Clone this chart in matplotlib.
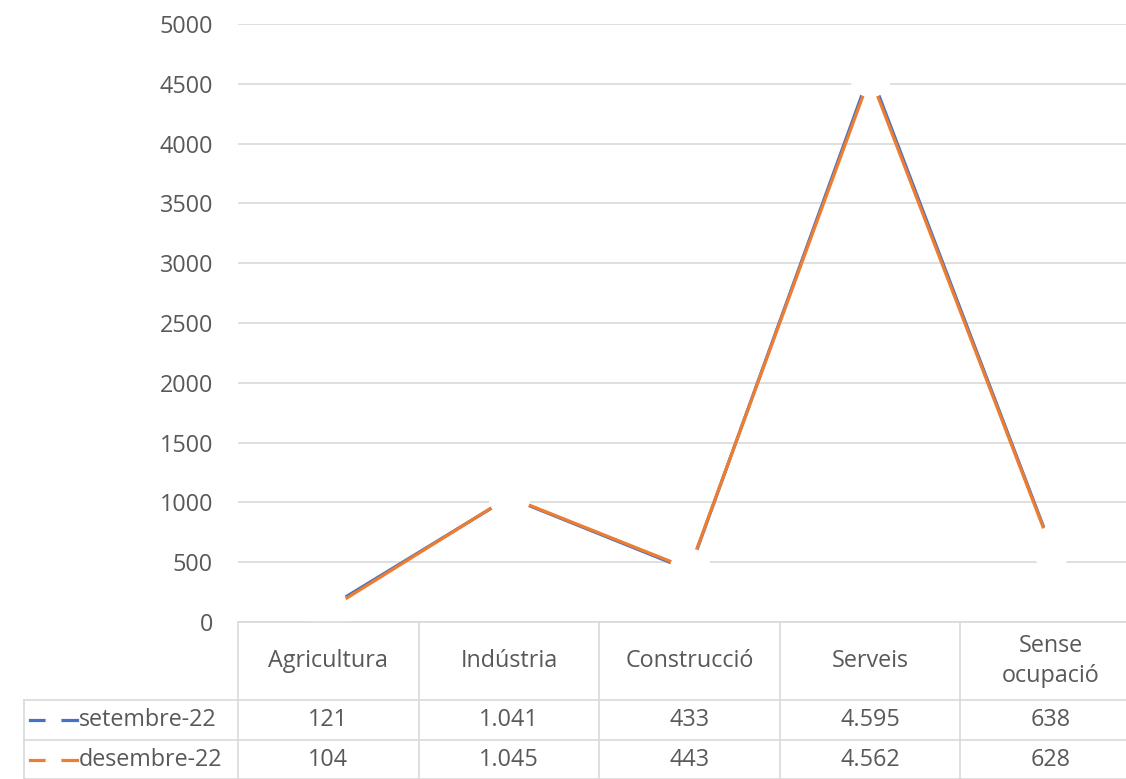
import matplotlib
matplotlib.use("Agg")
import matplotlib.pyplot as plt
from matplotlib.lines import Line2D
import matplotlib.transforms as mtransforms

categories = ["Agricultura", "Indústria", "Construcció", "Serveis", "Sense\nocupació"]
series_names = ["setembre-22", "desembre-22"]
setembre = [121, 1041, 433, 4595, 638]
desembre = [104, 1045, 443, 4562, 628]
setembre_labels = ["121", "1.041", "433", "4.595", "638"]
desembre_labels = ["104", "1.045", "443", "4.562", "628"]
yticks = list(range(0, 5001, 500))

W, H = 1126, 779
fig = plt.figure(figsize=(W / 100, H / 100), dpi=100)
plt.rcParams['font.family'] = ['Open Sans', 'DejaVu Sans']
txt_color = '#595959'
grid_color = '#D9D9D9'
colors = ['#4472C4', '#ED7D31']
fs = 16.8

def fx(x):
    return x / W

def fy(y):
    return 1 - y / H

ax = fig.add_axes([fx(238), fy(622), fx(1141) - fx(238), fy(24) - fy(622)])
ax.set_xlim(-0.5, len(categories) - 0.5)
ax.set_ylim(0, 5000)
ax.set_yticks(yticks)
ax.set_yticklabels([str(v) for v in yticks], fontsize=fs, color=txt_color)
ax.tick_params(axis='y', length=0, pad=18)
ax.set_xticks([])
for s in ax.spines.values():
    s.set_visible(False)
ax.grid(axis='y', color=grid_color, linewidth=1.2)
ax.set_axisbelow(True)

xs = list(range(len(categories)))
for vals, c in zip([setembre, desembre], colors):
    ax.plot(xs, vals, color=c, linewidth=2.3, marker='o', markersize=29,
            markerfacecolor='white', markeredgecolor='white', clip_on=False, zorder=3)

# data table
tb = mtransforms.blended_transform_factory(ax.transData, fig.transFigure)
lw = 1.2
row_y = [622, 700, 740, 779]
x_left = -0.5
x_right = len(categories) - 0.5
fig.add_artist(Line2D([x_left, x_right], [fy(622)] * 2, transform=tb, color=grid_color, lw=lw))
for y in row_y[1:]:
    fig.add_artist(Line2D([fx(24), fx(1141)], [fy(y)] * 2, transform=fig.transFigure, color=grid_color, lw=lw))
for i in range(len(categories) + 1):
    xv = i - 0.5
    fig.add_artist(Line2D([xv, xv], [fy(622), fy(779)], transform=tb, color=grid_color, lw=lw))
fig.add_artist(Line2D([fx(24), fx(24)], [fy(700), fy(779)], transform=fig.transFigure, color=grid_color, lw=lw))

for i, cat in enumerate(categories):
    fig.text(i, fy(661), cat, transform=tb, ha='center', va='center', fontsize=fs,
             color=txt_color, linespacing=1.35)
for row, labels in enumerate([setembre_labels, desembre_labels]):
    yc = fy((row_y[row + 1] + row_y[row + 2]) / 2)
    for i, lab in enumerate(labels):
        fig.text(i, yc, lab, transform=tb, ha='center', va='center', fontsize=fs, color=txt_color)
    fig.add_artist(Line2D([fx(30), fx(77)], [yc, yc], transform=fig.transFigure, color=colors[row], lw=2.3))
    fig.add_artist(Line2D([fx(53)], [yc], transform=fig.transFigure, marker='o', markersize=10.5,
                          markerfacecolor='white', markeredgecolor='white', linestyle='none'))
    fig.text(fx(79), yc, series_names[row], ha='left', va='center', fontsize=fs, color=txt_color)

fig.savefig('out.png', dpi=100)
